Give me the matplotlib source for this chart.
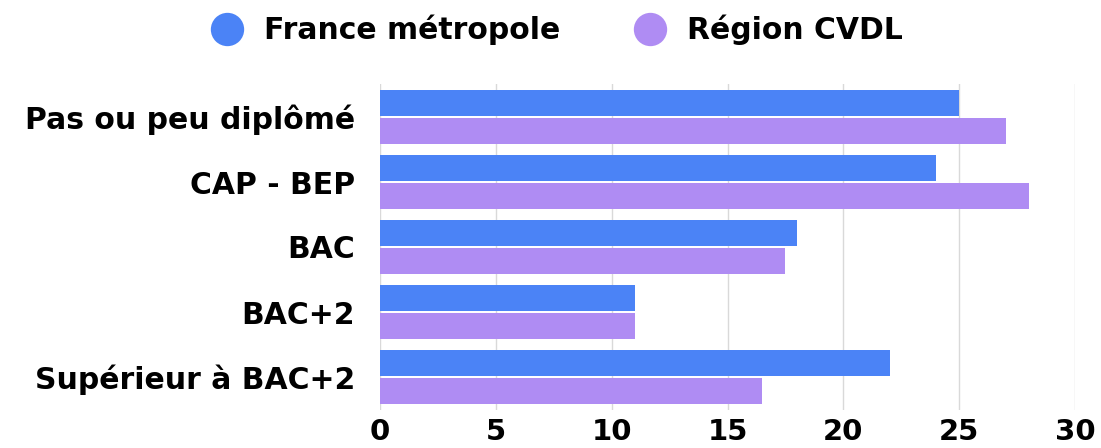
import matplotlib
matplotlib.use("Agg")
import matplotlib.pyplot as plt
import numpy as np

categories = ["Pas ou peu diplômé", "CAP - BEP", "BAC", "BAC+2", "Supérieur à BAC+2"]
france = [25, 24, 18, 11, 22]
region = [27, 28, 17.5, 11, 16.5]
series_names = ["France métropole", "Région CVDL"]
xticks = [0, 5, 10, 15, 20, 25, 30]

blue = "#4B83F6"
purple = "#AF8CF3"

plt.rcParams['font.family'] = ['DejaVu Sans']

fig = plt.figure(figsize=(11.01, 4.48), dpi=100)
top, bottom = 84.5, 409.5
ax = fig.add_axes([380/1101, 1-bottom/448, (1075-380)/1101, (bottom-top)/448])

n = len(categories)
y = np.arange(n)
h = 0.40
gap = 0.015

ax.barh(y - h/2 - gap, france, height=h, color=blue, zorder=3)
ax.barh(y + h/2 + gap, region, height=h, color=purple, zorder=3)

ax.set_xlim(0, 30)
ax.set_ylim(n - 0.5, -0.5)
ax.set_xticks(xticks)
ax.set_xticklabels([str(t) for t in xticks], fontsize=21, fontweight="bold")
ax.set_yticks(y)
ax.set_yticklabels(categories, fontsize=21.5, fontweight="bold")
ax.tick_params(axis="both", length=0)
ax.tick_params(axis="x", pad=6)
ax.tick_params(axis="y", pad=18)
ax.grid(axis="x", color="#d9d9d9", linewidth=1, zorder=0)
for s in ax.spines.values():
    s.set_visible(False)

handles = [plt.Line2D([], [], marker="o", linestyle="none", markersize=24,
                      markerfacecolor=c, markeredgecolor="none") for c in (blue, purple)]
fig.legend(handles, series_names, loc="center", bbox_to_anchor=(550/1101, 1-30/448),
           ncol=2, frameon=False, prop={"size": 21.5, "weight": "bold"},
           handletextpad=0.25, columnspacing=2.0)

fig.savefig("out.png", dpi=100)
